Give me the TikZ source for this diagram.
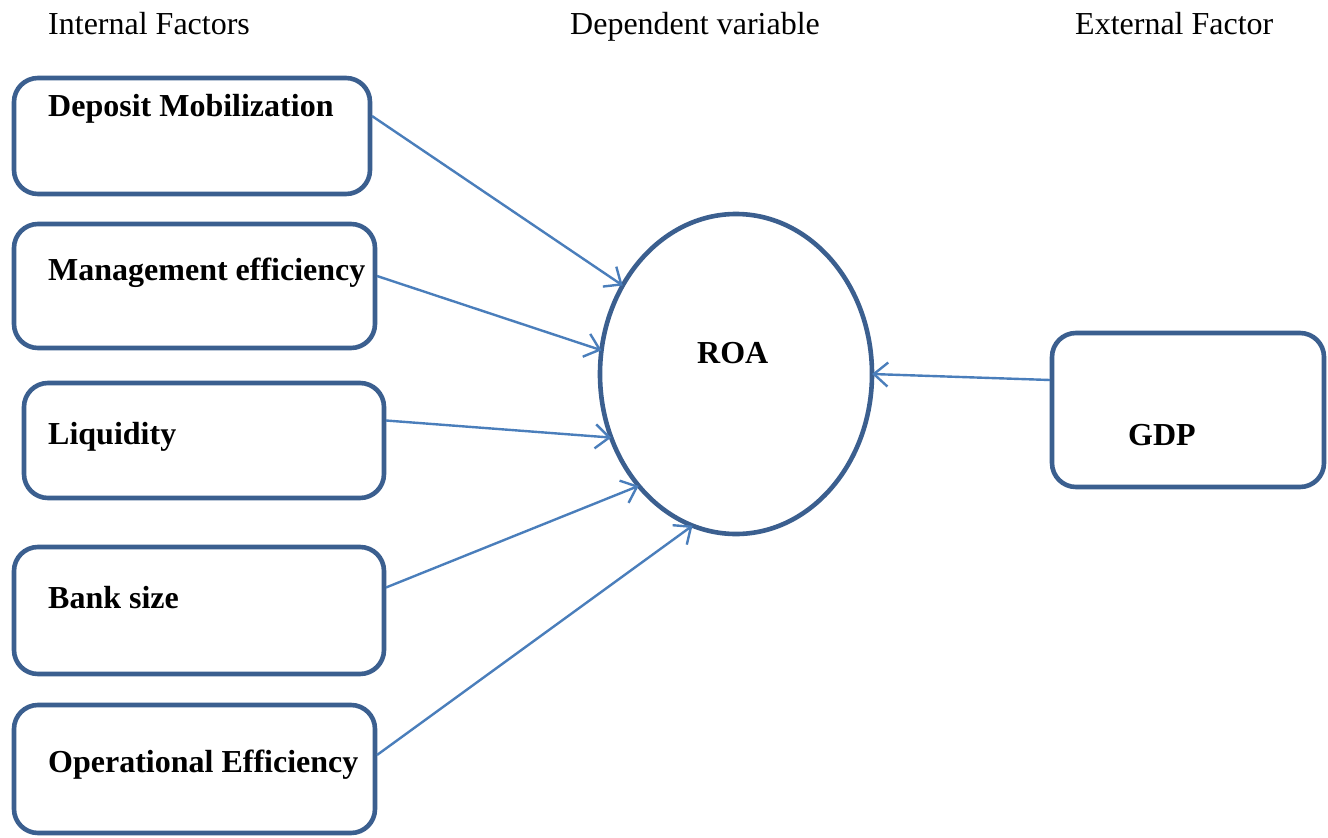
\documentclass[tikz,border=0pt]{standalone}
\usepackage{fontspec}
\setmainfont{Liberation Serif}
\usetikzlibrary{arrows.meta,shapes.geometric}
\definecolor{boxblue}{HTML}{3B5F8F}
\definecolor{arrblue}{HTML}{4A7EBB}
\tikzset{
  box/.style={draw=boxblue, line width=4.6pt, rounded corners=24pt, inner sep=0pt, outer sep=0pt},
  lbl/.style={font=\fontsize{32}{36}\selectfont\bfseries, inner sep=0pt, anchor=base west},
  hdr/.style={font=\fontsize{32}{36}\selectfont, inner sep=0pt, anchor=base west},
  conn/.style={draw=arrblue, line width=2.4pt, -{Straight Barb[length=14pt,width=24pt,line width=2.4pt]}}
}
\begin{document}
\begin{tikzpicture}[x=1pt,y=-1pt]
\useasboundingbox[fill=white] (0,0) rectangle (1328,838);
% headers
\node[hdr] (h1) at (48,34) {Internal Factors};
\node[hdr] (h2) at (570,34) {Dependent variable};
\node[hdr] (h3) at (1075,34) {External Factor};
% boxes
\node[box, minimum width=356pt, minimum height=116pt] (b1) at (192,136) {};
\node[box, minimum width=361pt, minimum height=124pt] (b2) at (194.5,286) {};
\node[box, minimum width=360pt, minimum height=115pt] (b3) at (204,440.5) {};
\node[box, minimum width=370pt, minimum height=127pt] (b4) at (199,610.5) {};
\node[box, minimum width=361pt, minimum height=128pt] (b5) at (194.5,769) {};
\node[box, minimum width=272pt, minimum height=154pt] (gdp) at (1188,410) {};
\node[draw=boxblue, line width=4.6pt, ellipse, minimum width=272pt, minimum height=320pt, inner sep=0pt, outer sep=0pt] (roa) at (736,374) {};
% labels
\node[lbl] (t1) at (48,116) {Deposit Mobilization};
\node[lbl] (t2) at (48,280) {Management efficiency};
\node[lbl] (t3) at (48,444) {Liquidity};
\node[lbl] (t4) at (48,608) {Bank size};
\node[lbl] (t5) at (48,772) {Operational Efficiency};
\node[lbl] (t6) at (1128,445) {GDP};
\node[lbl] (t7) at (697,363) {ROA};
% connectors
\draw[conn] ([yshift=20pt,xshift=2pt]b1.east) -- (roa.142.8);
\draw[conn] ([yshift=10pt,xshift=2pt]b2.east) -- (roa.170.5);
\draw[conn] ([yshift=20pt,xshift=2pt]b3.east) -- (roa.207.6);
\draw[conn] ([yshift=23pt,xshift=2pt]b4.east) -- (roa.229.9);
\draw[conn] ([yshift=14pt,xshift=2pt]b5.east) -- (roa.254.4);
\draw[conn] ([yshift=30pt,xshift=-2pt]gdp.west) -- (roa.0.8);
\end{tikzpicture}
\end{document}
